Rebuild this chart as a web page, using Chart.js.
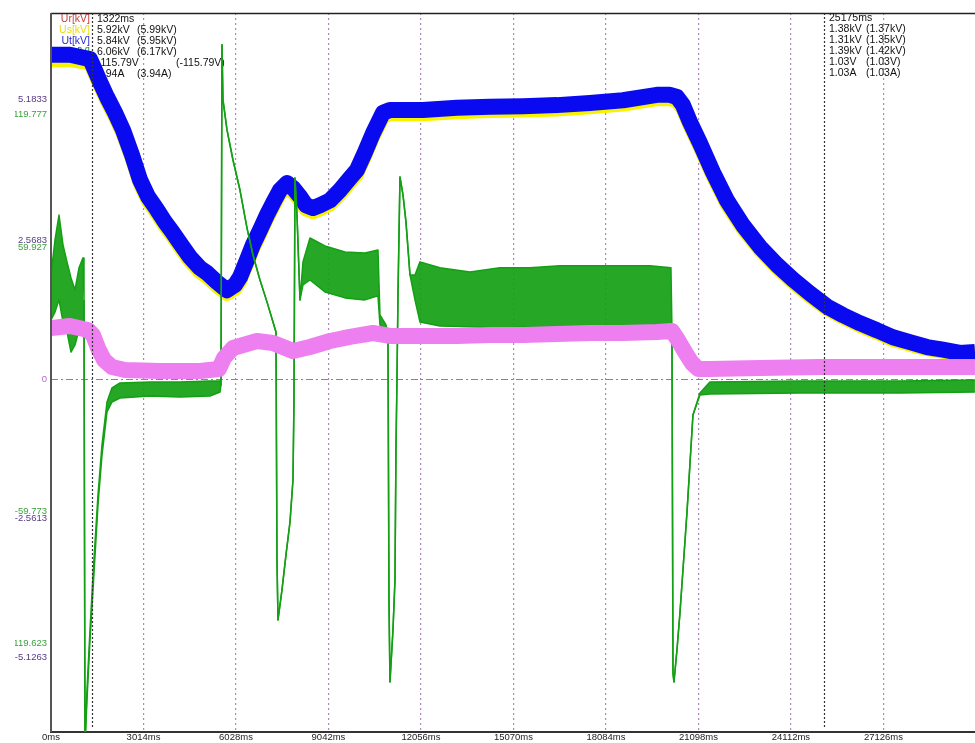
<!DOCTYPE html>
<html><head><meta charset="utf-8">
<script src="https://cdn.jsdelivr.net/npm/chart.js@4.4.0/dist/chart.umd.min.js"></script>
<style>html,body{margin:0;padding:0;background:#fff;overflow:hidden}#wrap{width:975px;height:743px;position:relative}</style>
</head><body><div id="wrap"><canvas id="c" width="975" height="743"></canvas></div>
<script>
// ---- data ----
const xTicks = [0,3014,6028,9042,12056,15070,18084,21098,24112,27126];
const cursorTimes = [1322, 25175];

const tV = [0,619,1271,1369,1597,1825,2086,2346,2639,2900,3161,3454,3715,3975,4269,4529,4855,5083,5409,5734,5995,6158,6386,6582,6810,7038,7234,7462,7690,7885,8114,8309,8537,8765,9091,9417,9742,9970,10231,10492,10818,11046,12121,13229,14304,15379,16487,17563,18638,19746,20169,20398,20593,20821,21147,21571,22027,22548,23102,23656,24177,24731,25285,25807,26361,26915,27436,27990,28544,29065,29619,30108];
const ut = [6.00,6.00,5.92,5.80,5.50,5.22,4.93,4.61,4.15,3.69,3.38,3.14,2.91,2.71,2.47,2.26,2.06,1.97,1.80,1.65,1.75,1.89,2.21,2.49,2.76,3.04,3.26,3.50,3.63,3.54,3.38,3.22,3.17,3.22,3.31,3.50,3.72,3.87,4.20,4.55,4.93,4.98,4.98,5.02,5.04,5.05,5.07,5.11,5.16,5.26,5.26,5.22,5.07,4.76,4.37,3.83,3.31,2.85,2.45,2.12,1.85,1.59,1.35,1.19,1.04,0.91,0.78,0.69,0.60,0.55,0.49,0.51];
const us = [5.90,5.90,5.84,5.72,5.42,5.14,4.85,4.53,4.07,3.61,3.30,3.06,2.83,2.63,2.39,2.18,1.98,1.89,1.72,1.58,1.67,1.81,2.13,2.41,2.68,2.96,3.18,3.42,3.55,3.46,3.30,3.14,3.09,3.14,3.23,3.42,3.64,3.79,4.12,4.47,4.85,4.90,4.90,4.94,4.96,4.97,4.99,5.03,5.08,5.18,5.18,5.14,4.99,4.68,4.29,3.75,3.23,2.78,2.39,2.06,1.79,1.53,1.30,1.14,0.99,0.86,0.73,0.64,0.56,0.51,0.45,0.47];
const ur = [5.94,5.94,5.86,5.74,5.44,5.16,4.87,4.56,4.10,3.64,3.33,3.09,2.86,2.66,2.42,2.21,2.01,1.92,1.75,1.60,1.70,1.84,2.16,2.44,2.71,2.99,3.21,3.45,3.58,3.49,3.33,3.17,3.12,3.17,3.26,3.45,3.67,3.82,4.15,4.50,4.87,4.92,4.92,4.96,4.98,4.99,5.01,5.05,5.10,5.20,5.20,5.16,5.01,4.70,4.31,3.78,3.27,2.81,2.41,2.09,1.83,1.57,1.34,1.18,1.03,0.90,0.77,0.68,0.59,0.54,0.48,0.50];

const tI = [0,619,1206,1369,1531,1727,1988,2411,3552,4855,5474,5637,5930,6712,7234,7885,8439,9091,9742,10492,11046,12024,13229,14304,15379,16487,17563,18638,19746,20235,20430,20658,20886,21082,21472,23102,25057,27012,28967,30108];
const iex = [4.06,4.21,3.90,3.50,2.48,1.54,0.98,0.75,0.67,0.67,0.83,1.69,2.48,3.03,2.87,2.24,2.56,3.03,3.35,3.66,3.43,3.43,3.43,3.50,3.50,3.58,3.66,3.66,3.74,3.82,3.11,2.17,1.30,0.83,0.83,0.91,0.98,0.98,0.98,0.98];

const tU = [0,130,261,391,521,652,782,912,1043,1075,1108,1173,1271,1369,1531,1662,1825,1988,2248,3226,4203,5181,5507,5539,5572,5604,5735,5930,6158,6386,6582,6810,7038,7234,7331,7364,7397,7527,7657,7788,7885,7918,7950,8016,8114,8211,8439,8928,9580,10231,10655,10720,10916,10981,11013,11046,11144,11209,11241,11274,11307,11372,11470,11567,11698,11861,12024,12675,13653,14630,15608,16585,17563,18540,19518,20202,20235,20268,20300,20398,20495,20723,20919,21147,21472,24405,27664,30108];
const udcHi = [47.3,63.1,74.4,60.9,53.2,45.9,40.5,50.5,55.0,36.0,-165.4,-140.5,-113.3,-88.5,-52.3,-29.6,-10.2,-3.8,-1.6,-1.1,-1.1,-0.7,-0.7,-2.5,151.4,126.5,112.9,99.3,85.7,68.6,56.3,45.0,35.1,26.0,21.5,-81.7,-108.8,-95.2,-79.4,-64.5,-45.5,-9.3,91.2,74.4,36.0,53.2,64.0,60.4,57.7,57.2,58.6,29.2,24.7,20.1,-99.3,-136.9,-113.3,-90.7,-31.9,-0.2,38.2,91.6,83.5,71.3,47.3,47.3,53.2,50.5,48.6,50.5,50.5,51.4,51.4,51.4,51.4,50.5,22.4,-132.8,-136.9,-122.4,-105.7,-60.4,-16.1,-6.1,-1.1,-0.7,-0.7,-0.2];
const udcLo = [26.9,30.5,36.0,26.0,21.5,12.4,15.6,22.4,26.0,36.0,-165.4,-145.0,-117.9,-95.2,-56.8,-34.2,-14.7,-10.2,-8.4,-7.5,-7.9,-7.5,-5.7,-2.5,151.4,126.5,112.9,99.3,85.7,68.6,56.3,45.0,35.1,26.0,21.5,-81.7,-108.8,-95.2,-79.4,-64.5,-45.5,-9.3,91.2,74.4,36.0,42.8,45.0,39.6,36.9,36.0,37.8,24.7,20.1,20.1,-99.3,-136.9,-113.3,-90.7,-31.9,-0.2,38.2,91.6,83.5,71.3,47.3,36.0,26.0,24.2,23.8,23.3,23.8,23.3,23.3,23.3,23.3,24.2,22.4,-132.8,-136.9,-122.4,-105.7,-60.4,-16.1,-7.0,-6.6,-6.1,-6.1,-5.7];

const kvTickLabels = ['5.1833','2.5683','0','-2.5613','-5.1263'];
const udcTickLabels = ['119.777','59.927','-59.773','-119.623'];
const channelNames = ['Ur[kV]','Us[kV]','Ut[kV]','Udc[V]','Iex[A]'];
const cursor1Now = ['1322ms','5.92kV','5.84kV','6.06kV','-115.79V','3.94A'];
const cursor1Ref = ['','(5.99kV)','(5.95kV)','(6.17kV)','(-115.79V)','(3.94A)'];
const cursor2Now = ['25175ms','1.38kV','1.31kV','1.39kV','1.03V','1.03A'];
const cursor2Ref = ['','(1.37kV)','(1.35kV)','(1.42kV)','(1.03V)','(1.03A)'];

// ---- styles ----
const nameColors = ['#c8403c','#e6dc10','#2a2ad0','#25a025','#c35ad8'];
const FAMILY = '"Liberation Sans", Arial, sans-serif';
const FONT = '10.5px ' + FAMILY;
const SMALL = '9.5px ' + FAMILY;
const pts = (t, v) => t.map((x, i) => ({x, y: v[i]}));

const overlay = {
  id: 'overlay',
  beforeDatasetsDraw(chart) {
    const {ctx, chartArea: a, scales: {yV}} = chart;
    ctx.save();
    const y0 = Math.round(yV.getPixelForValue(0)) + 0.5;
    ctx.strokeStyle = '#a56fb5'; ctx.lineWidth = 1; ctx.setLineDash([7,3,2,3]);
    ctx.beginPath(); ctx.moveTo(a.left, y0); ctx.lineTo(a.right, y0); ctx.stroke();
    ctx.setLineDash([]);
    ctx.font = FONT; ctx.textBaseline = 'middle';
    ctx.textAlign = 'right';
    channelNames.forEach((n, i) => { ctx.fillStyle = nameColors[i]; ctx.fillText(n, 90, 19 + i * 11); });
    ctx.textAlign = 'left'; ctx.fillStyle = '#111';
    cursor1Now.forEach((s, i) => ctx.fillText(s, 97, 19 + i * 11));
    cursor1Ref.forEach((s, i) => ctx.fillText(s, i === 4 ? 176 : 137, 19 + i * 11));
    cursor2Now.forEach((s, i) => ctx.fillText(s, 829, 18 + i * 11));
    cursor2Ref.forEach((s, i) => ctx.fillText(s, 866, 18 + i * 11));
    ctx.restore();
  },
  afterDatasetsDraw(chart) {
    const {ctx, chartArea: a, scales: {x}} = chart;
    ctx.save();
    ctx.strokeStyle = '#333'; ctx.lineWidth = 1.2; ctx.setLineDash([2,2]);
    cursorTimes.forEach(t => {
      const px = Math.round(x.getPixelForValue(t)) + 0.5;
      ctx.beginPath(); ctx.moveTo(px, a.top); ctx.lineTo(px, a.bottom - 4); ctx.stroke();
    });
    ctx.setLineDash([]);
    ctx.strokeStyle = '#222'; ctx.lineWidth = 1.5;
    ctx.beginPath(); ctx.moveTo(a.left, a.top + 0.5); ctx.lineTo(a.right, a.top + 0.5); ctx.stroke();
    ctx.strokeStyle = '#555'; ctx.lineWidth = 2;
    ctx.beginPath(); ctx.moveTo(a.left, a.top); ctx.lineTo(a.left, a.bottom); ctx.stroke();
    ctx.restore();
  },
  afterDraw(chart) {
    const {ctx, scales: {yV, yU}} = chart;
    ctx.save();
    ctx.beginPath(); ctx.rect(15, 0, 40, chart.height); ctx.clip();
    ctx.font = SMALL; ctx.textBaseline = 'middle'; ctx.textAlign = 'right';
    kvTickLabels.forEach(s => {
      const v = parseFloat(s);
      ctx.fillStyle = v === 0 ? '#b06cc0' : '#563a86';
      ctx.fillText(s, 47, yV.getPixelForValue(v));
    });
    ctx.fillStyle = '#3ca03c';
    udcTickLabels.forEach(s => ctx.fillText(s, 47, yU.getPixelForValue(parseFloat(s))));
    ctx.restore();
  }
};

new Chart(document.getElementById('c'), {
  type: 'line',
  data: { datasets: [
    {label: 'Iex[A]', data: pts(tI, iex), yAxisID: 'yI', borderColor: '#ee7ff0', borderWidth: 16},
    {label: 'Udc[V]', data: pts(tU, udcHi), yAxisID: 'yU', borderColor: '#14a014', borderWidth: 1.5, fill: false},
    {label: 'Udc[V] low', data: pts(tU, udcLo), yAxisID: 'yU', borderColor: '#14a014', borderWidth: 1.5, fill: '-1', backgroundColor: 'rgba(20,160,20,0.92)'},
    {label: 'Ut[kV]', data: pts(tV, ut), yAxisID: 'yV', borderColor: '#0a0af0', borderWidth: 16},
    {label: 'Us[kV]', data: pts(tV, us), yAxisID: 'yV', borderColor: '#f6f200', borderWidth: 14},
    {label: 'Ur[kV]', data: pts(tV, ur), yAxisID: 'yV', borderColor: '#e02828', borderWidth: 14}
  ]},
  options: {
    responsive: false, animation: false, devicePixelRatio: 1,
    layout: {padding: {left: 51, top: 13, right: 0, bottom: 0}},
    plugins: {legend: {display: false}, tooltip: {enabled: false}},
    elements: {point: {radius: 0}, line: {tension: 0, borderJoinStyle: 'round', borderCapStyle: 'butt'}},
    scales: {
      x: {
        type: 'linear', min: 0, max: 30110,
        afterBuildTicks: s => { s.ticks = xTicks.map(v => ({value: v})); },
        ticks: {callback: v => v + 'ms', font: {family: FAMILY, size: 9.5, lineHeight: 1.16}, color: '#222', padding: 0, maxRotation: 0, autoSkip: false},
        grid: {drawTicks: false, lineWidth: 1.2, color: c => (c.tick && c.tick.value === 0) ? 'rgba(0,0,0,0)' : '#a98cb3'},
        border: {display: true, color: '#333', width: 2, dash: [2,3]}
      },
      yV: {type: 'linear', display: false, min: -6.513, max: 6.772},
      yU: {type: 'linear', display: false, min: -159.5, max: 165.8},
      yI: {type: 'linear', display: false, min: -27.76, max: 28.86}
    }
  },
  plugins: [overlay]
});
</script></body></html>
